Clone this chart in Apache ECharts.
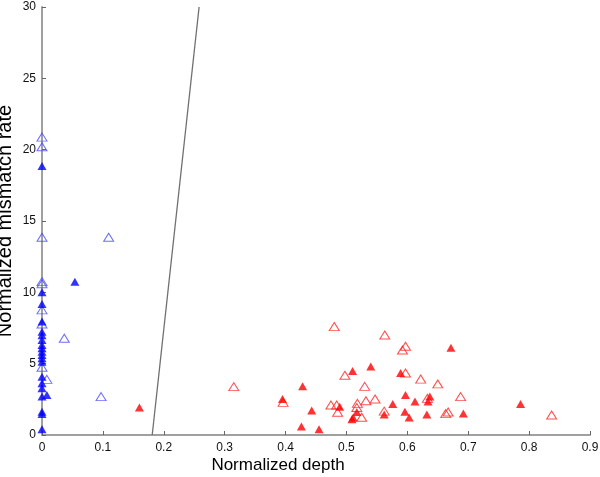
<!DOCTYPE html>
<html>
<head>
<meta charset="utf-8">
<script src="https://cdn.jsdelivr.net/npm/echarts@6/dist/echarts.min.js"></script>
<style>
  html, body { margin: 0; padding: 0; background: #fff; }
  #main { width: 600px; height: 477px; }
</style>
</head>
<body>
<div id="main"></div>
<script>
// [normalized depth, normalized mismatch rate]
var blueFilled = [
  [0, 18.86], [0.054, 10.75], [0, 10.0], [0, 9.19], [0, 7.95], [0, 7.24], [0, 7.0],
  [0, 6.66], [0, 6.3], [0, 6.08], [0, 5.84], [0, 5.61], [0, 5.38], [0, 5.14],
  [0, 4.09], [0, 3.62], [0, 3.27], [0.008, 2.8], [0, 2.69], [0, 1.63], [0, 1.47], [0, 0.4]
];
var blueOpen = [
  [0, 20.88], [0, 20.2], [0, 13.86], [0.1095, 13.86], [0, 10.75], [0, 10.6], [0, 8.77],
  [0, 7.78], [0.0366, 6.78], [0, 4.75], [0.008, 3.9], [0.097, 2.69]
];
var redFilled = [
  [0.16, 1.92], [0.428, 3.41], [0.395, 2.52], [0.443, 1.71], [0.426, 0.59], [0.455, 0.41],
  [0.51, 4.49], [0.54, 4.8], [0.489, 1.98], [0.517, 1.62], [0.511, 1.22], [0.509, 1.1],
  [0.576, 2.17], [0.562, 1.43], [0.589, 4.35], [0.6716, 6.12], [0.597, 2.8], [0.6125, 2.34],
  [0.637, 2.69], [0.634, 2.34], [0.596, 1.63], [0.603, 1.22], [0.632, 1.43], [0.692, 1.5],
  [0.786, 2.17]
];
var redOpen = [
  [0.315, 3.39], [0.48, 7.6], [0.396, 2.29], [0.4975, 4.19], [0.53, 3.41], [0.4745, 2.1],
  [0.484, 2.1], [0.4855, 1.59], [0.518, 2.22], [0.517, 1.93], [0.525, 1.24], [0.532, 2.4],
  [0.547, 2.52], [0.563, 7.01], [0.562, 1.67], [0.597, 6.22], [0.592, 5.96], [0.597, 4.35],
  [0.622, 3.92], [0.65, 3.58], [0.633, 2.57], [0.6875, 2.69], [0.663, 1.5], [0.667, 1.61],
  [0.837, 1.4]
];
var boundary = [[0.181, 0], [0.258, 30]];

var chart = echarts.init(document.getElementById('main'));
var font = 'Liberation Sans, Arial, sans-serif';
var axisCommon = {
  axisLine: { show: true, onZero: false, lineStyle: { color: '#a0a0a0', width: 2 } },
  axisTick: { show: true, inside: true, length: 4, lineStyle: { color: '#666', width: 1 } },
  splitLine: { show: false },
  axisLabel: { color: '#111', fontSize: 12, fontFamily: font }
};

chart.setOption({
  animation: false,
  backgroundColor: '#fff',
  title: {
    text: 'Normalized depth',
    left: 273,
    textAlign: 'center',
    top: 452,
    textStyle: { color: '#000', fontSize: 17, fontWeight: 'normal', fontFamily: font }
  },
  grid: { left: 42, right: 10, top: 7, bottom: 42, containLabel: false, outerBoundsMode: 'none' },
  xAxis: Object.assign({}, axisCommon, {
    type: 'value',
    min: 0,
    max: 0.9,
    interval: 0.1,
    axisLabel: Object.assign({}, axisCommon.axisLabel, {
      margin: 7,
      formatter: function (v) { return v === 0 ? '0' : (+v.toFixed(1)).toString(); }
    })
  }),
  yAxis: Object.assign({}, axisCommon, {
    type: 'value',
    min: 0,
    max: 30,
    interval: 5,
    name: 'Normalized mismatch rate',
    nameLocation: 'middle',
    nameGap: 27,
    nameMoveOverlap: false,
    nameTextStyle: { color: '#000', fontSize: 20, fontFamily: font },
    axisLabel: Object.assign({}, axisCommon.axisLabel, { margin: 6 })
  }),
  series: [
    {
      type: 'line',
      data: boundary,
      symbol: 'none',
      lineStyle: { color: '#707070', width: 1.3 }
    },
    {
      type: 'scatter',
      data: blueOpen,
      symbol: 'triangle',
      symbolSize: [10, 8],
      itemStyle: { color: 'rgba(255,255,255,0)', borderColor: '#4848ff', borderWidth: 1 }
    },
    {
      type: 'scatter',
      data: redOpen,
      symbol: 'triangle',
      symbolSize: [10, 8],
      itemStyle: { color: 'rgba(255,255,255,0)', borderColor: '#ff2020', borderWidth: 1 }
    },
    {
      type: 'scatter',
      data: blueFilled,
      symbol: 'triangle',
      symbolSize: [9, 8],
      itemStyle: { color: '#0000ff' }
    },
    {
      type: 'scatter',
      data: redFilled,
      symbol: 'triangle',
      symbolSize: [9, 8],
      itemStyle: { color: '#ff0000' }
    }
  ]
});
</script>
</body>
</html>
